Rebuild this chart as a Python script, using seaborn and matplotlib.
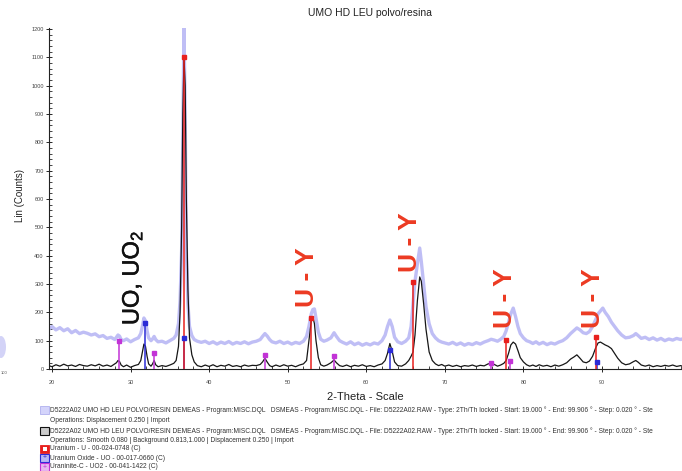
import matplotlib
matplotlib.use("Agg")
import matplotlib.pyplot as plt
import matplotlib.patheffects as pe
import seaborn as sns
import pandas as pd
from matplotlib.patches import Rectangle, Ellipse

# ---------------- data ----------------
theta = [19.6, 20.0, 20.5, 21.0, 21.5, 22.0, 22.5, 23.0, 23.5, 24.0,
         24.5, 25.0, 25.5, 26.0, 26.5, 27.0, 27.5, 28.0,
         28.2, 28.4, 28.6, 28.8, 29.1, 29.5, 30.0, 30.5, 31.0,
         31.3, 31.5, 31.7, 31.9, 32.1, 32.3, 32.6, 32.8, 33.0, 33.2, 33.5,
         34.0, 34.5, 35.0, 35.5, 35.8, 36.1, 36.3, 36.5, 36.65, 36.8, 36.95, 37.1, 37.3, 37.5, 37.8, 38.1, 38.5, 39.0,
         39.5, 40.0, 40.5, 41.0, 41.5, 42.0, 42.5, 43.0, 43.5, 44.0, 44.5, 45.0, 45.5, 46.0, 46.5,
         46.8, 47.1, 47.4, 47.7, 48.0, 48.5, 49.0, 49.5, 50.0, 50.5, 51.0, 51.5, 52.0,
         52.4, 52.7, 53.0, 53.2, 53.4, 53.6, 53.9, 54.2, 54.6, 55.0,
         55.5, 55.9, 56.2, 56.6, 57.0, 57.5, 58.0, 58.5, 59.0, 59.5, 60.0, 60.5, 61.0, 61.5, 62.0, 62.4,
         62.7, 63.0, 63.3, 63.6, 64.0, 64.5, 65.0,
         65.4, 65.7, 65.95, 66.2, 66.5, 66.8, 67.0, 67.3, 67.6, 68.0, 68.4, 68.8, 69.2, 69.6, 70.0,
         70.5, 71.0, 71.5, 72.0, 72.5, 73.0, 73.5, 74.0, 74.5, 75.0, 75.5,
         75.9, 76.3, 76.7, 77.1, 77.5, 77.8, 78.1, 78.4, 78.7, 79.0, 79.3, 79.6, 80.0, 80.4, 80.8,
         81.2, 81.6, 82.0, 82.5, 83.0, 83.5, 84.0, 84.5, 85.0, 85.5, 86.0,
         86.4, 86.8, 87.2, 87.6, 88.0, 88.4, 88.8, 89.2, 89.5, 89.8, 90.1, 90.4, 90.8, 91.2, 91.6, 92.0, 92.5, 93.0,
         93.5, 94.0, 94.3, 94.6, 95.0, 95.5, 96.0, 96.5, 97.0, 97.5, 98.0, 98.5, 99.0, 99.5, 100.0, 100.2]

raw_counts = [140, 150, 138, 146, 135, 142, 128, 136, 125, 130,
              126, 120, 124, 114, 118, 108, 112, 104,
              112, 120, 116, 104, 100, 106, 96, 104, 110,
              125, 150, 180, 170, 135, 110, 100, 106, 115, 104, 96,
              98, 92, 100, 108, 120, 160, 240, 420, 800, 1205, 900, 420, 230, 150, 118, 104, 98, 94,
              98, 90, 96, 88, 95, 90, 97, 88, 94, 90, 96, 89, 95, 98, 104,
              115, 125, 116, 104, 96, 92, 98, 90, 95, 88, 94, 90, 98,
              115, 150, 195, 210, 212, 180, 130, 105, 98, 102,
              110, 128, 115, 100, 94, 88, 96, 86, 92, 84, 90, 85, 92, 88, 100, 120,
              150, 173, 150, 112, 96, 90, 98,
              110, 150, 230, 310, 370, 427, 380, 300, 220, 160, 125, 110, 100, 95, 92,
              88, 94, 86, 92, 84, 90, 86, 93, 88, 95, 100,
              105, 102, 98, 105, 115, 135, 165, 195, 215, 185, 150, 125, 110, 100, 96,
              90, 96, 88, 94, 86, 92, 88, 95, 100, 110, 125,
              135, 145, 138, 128, 125, 132, 150, 175, 195, 205, 215, 200, 185, 165, 150, 135, 120, 110,
              112, 118, 125, 118, 108, 112, 104, 110, 102, 108, 100, 106, 102, 108, 104, 106]

net_counts = [12, 8, 15, 10, 17, 11, 14, 9, 16, 12,
              10, 15, 11, 17, 10, 14, 9, 18,
              22, 30, 26, 14, 8, 14, 6, 12, 16,
              30, 60, 88, 80, 45, 18, 10, 18, 30, 15, 8,
              12, 9, 14, 20, 30, 80, 200, 500, 900, 1100, 1000, 600, 280, 110, 50, 25, 12, 8,
              14, 9, 15, 8, 13, 10, 16, 9, 12, 8, 14, 10, 13, 12, 16,
              25, 38, 24, 12, 8, 14, 9, 15, 10, 13, 8, 14, 18,
              30, 100, 170, 184, 160, 100, 40, 15, 10, 14,
              22, 32, 22, 12, 9, 14, 8, 13, 10, 15, 9, 12, 8, 14, 18, 30,
              55, 90, 62, 25, 12, 10, 18,
              30, 45, 60, 120, 240, 325, 310, 230, 140, 60, 30, 18, 12, 16, 10,
              14, 9, 13, 8, 12, 10, 14, 9, 13, 11, 18,
              20, 16, 10, 14, 20, 30, 55, 85, 95, 88, 65, 40, 25, 15, 10,
              14, 9, 15, 10, 13, 8, 14, 10, 15, 22, 35,
              42, 50, 38, 25, 22, 28, 45, 75, 92, 95, 90, 85, 80, 72, 55, 38, 22, 15,
              18, 26, 30, 24, 14, 10, 14, 8, 12, 9, 13, 10, 14, 9, 12, 10]

# reference patterns (stick positions / heights)
u_pos = [36.8, 53.0, 65.95, 77.8, 89.2]
u_h = [1100, 180, 308, 102, 113]
uo_pos = [31.8, 36.8, 63.0, 89.3]
uo_h = [162, 110, 68, 25]
uo2_pos = [28.5, 33.0, 47.1, 55.9, 75.9, 78.3]
uo2_h = [100, 58, 48, 45, 22, 28]

x_ticks = [20, 30, 40, 50, 60, 70, 80, 90]
y_ticks = list(range(0, 1300, 100))

title = "UMO HD LEU polvo/resina"
phase_label = "UO, UO$_2$"
gamma_label = "U - Y"
gamma_label_pos = [(52.45, 219), (65.56, 342), (77.65, 145), (88.86, 145)]
scan_text = ("D5222A02 UMO HD LEU POLVO/RESIN DEMEAS - Program:MISC.DQL   DSMEAS - Program:MISC.DQL - "
             "File: D5222A02.RAW - Type: 2Th/Th locked - Start: 19.000 \u00b0 - End: 99.906 \u00b0 - "
             "Step: 0.020 \u00b0 - Ste")
ops1 = "Operations: Displacement 0.250 | Import"
ops2 = "Operations: Smooth 0.080 | Background 0.813,1.000 | Displacement 0.250 | Import"
ref_u = "Uranium - U - 00-024-0748 (C)"
ref_uo = "Uranium Oxide - UO - 00-017-0660 (C)"
ref_uo2 = "Uraninite-C - UO2 - 00-041-1422 (C)"

# ---------------- style ----------------
sns.set_style("ticks")
plt.rcParams["font.family"] = ["Liberation Sans", "DejaVu Sans"]
plt.rcParams["mathtext.fontset"] = "custom"
plt.rcParams["mathtext.rm"] = "Liberation Sans"
plt.rcParams["mathtext.it"] = "Liberation Sans"

W, H = 682, 471
fig = plt.figure(figsize=(W / 100, H / 100), dpi=100)
ax = fig.add_axes([49 / W, 102 / H, (W - 49) / W, (369 - 27.6) / H])

LAV = "#b4b3f4"
RED = "#e8201e"
BLUE = "#2b2bd6"
MAG = "#c233d6"
TXT_RED = "#ec3a22"

df = pd.DataFrame({"theta": theta, "raw": raw_counts, "net": net_counts})
sns.lineplot(data=df, x="theta", y="raw", ax=ax, color=LAV, lw=2.4, sort=False,
             estimator=None, alpha=0.85, zorder=1)
sns.lineplot(data=df, x="theta", y="net", ax=ax, color="#161616", lw=0.9, sort=False,
             estimator=None, zorder=2)

for pos, hts, col in [(uo2_pos, uo2_h, MAG), (uo_pos, uo_h, BLUE), (u_pos, u_h, RED)]:
    ax.vlines(pos, 0, hts, colors=col, lw=1.1, zorder=3)
    ax.plot(pos, hts, ls="none", marker="s", ms=2.2, color=col, zorder=4)

ax.set_xlim(19.62, 100.18)
ax.set_ylim(0, 1205)
ax.set_xlabel("")
ax.set_ylabel("")
ax.set_xticks(x_ticks)
ax.set_xticks([v for v in range(20, 101, 2)], minor=True)
ax.set_yticks(y_ticks)
ax.set_yticks([v for v in range(0, 1201, 20)], minor=True)
ax.tick_params(axis="both", which="major", direction="inout", length=4.5, width=0.7,
               labelsize=4, labelcolor="#444444", pad=1.5)
ax.tick_params(axis="both", which="minor", direction="in", length=2.5, width=0.6)
ax.tick_params(axis="x", pad=6)
for s in ["top", "right"]:
    ax.spines[s].set_visible(False)
for s in ["left", "bottom"]:
    ax.spines[s].set_linewidth(0.8)
    ax.spines[s].set_color("#222222")

# annotations
ax.text(30.18, 155, phase_label, rotation=90, ha="center", va="bottom",
        fontsize=17, color="#111111", zorder=5,
        path_effects=[pe.withStroke(linewidth=0.35, foreground="#111111")])
for tx, ty in gamma_label_pos:
    ax.text(tx, ty, gamma_label, rotation=90, ha="center", va="bottom",
            fontsize=19, fontweight="bold", color=TXT_RED, zorder=5)

# figure texts
def fx(px):
    return px / W

def fy(py):
    return 1 - py / H

fig.text(fx(370), fy(13), title, ha="center", va="center", fontsize=7.5, color="#222222")
fig.text(fx(20), fy(196), "Lin (Counts)", rotation=90, ha="center", va="center",
         fontsize=7, color="#222222")
fig.text(fx(365), fy(397), "2-Theta - Scale", ha="center", va="center", fontsize=8,
         color="#222222")

rows = [(410, scan_text, "lav"), (421, ops1, None), (431, scan_text, "blk"),
        (440, ops2, None), (449, ref_u, "red"), (458, ref_uo, "blue"), (467, ref_uo2, "mag")]
for py, txt, box in rows:
    fig.text(fx(50), fy(py), txt, ha="left", va="center", fontsize=4.8, color="#333333")
    if box is None:
        continue
    x0, y0 = fx(40), fy(py + 4)
    bw, bh = 9 / W, 8 / H
    if box == "lav":
        fig.patches.append(Rectangle((x0, y0), bw, bh, transform=fig.transFigure,
                                     facecolor="#d4d4fb", edgecolor="#b0b0ee", lw=0.6))
    elif box == "blk":
        fig.patches.append(Rectangle((x0, y0), bw, bh, transform=fig.transFigure,
                                     facecolor="#cccccc", edgecolor="#111111", lw=0.8))
    elif box == "red":
        fig.patches.append(Rectangle((x0, y0), bw, bh, transform=fig.transFigure,
                                     facecolor=RED, edgecolor=RED, lw=0.6))
        fig.patches.append(Rectangle((x0 + 2.5 / W, y0 + 2 / H), 4 / W, 4 / H,
                                     transform=fig.transFigure, facecolor="white",
                                     edgecolor="none"))
    elif box == "blue":
        fig.patches.append(Rectangle((x0, y0), bw, bh, transform=fig.transFigure,
                                     facecolor="#b8b8f4", edgecolor=BLUE, lw=0.8))
        fig.text(x0 + bw / 2, y0 + bh / 2, "+", ha="center", va="center", fontsize=5,
                 color=BLUE)
    elif box == "mag":
        fig.patches.append(Rectangle((x0, y0), bw, bh, transform=fig.transFigure,
                                     facecolor="#e6b8f0", edgecolor=MAG, lw=0.8))
        fig.text(x0 + bw / 2, y0 + bh / 2, "+", ha="center", va="center", fontsize=5,
                 color=MAG)

# stray fragment at the far left of the original image
fig.patches.append(Ellipse((fx(1), fy(347)), 10 / W, 22 / H, transform=fig.transFigure,
                           facecolor="#c8c8f6", edgecolor="none", alpha=0.8))
fig.text(fx(1), fy(373), "100", ha="left", va="center", fontsize=3, color="#555555")

fig.savefig("out.png", dpi=100)
